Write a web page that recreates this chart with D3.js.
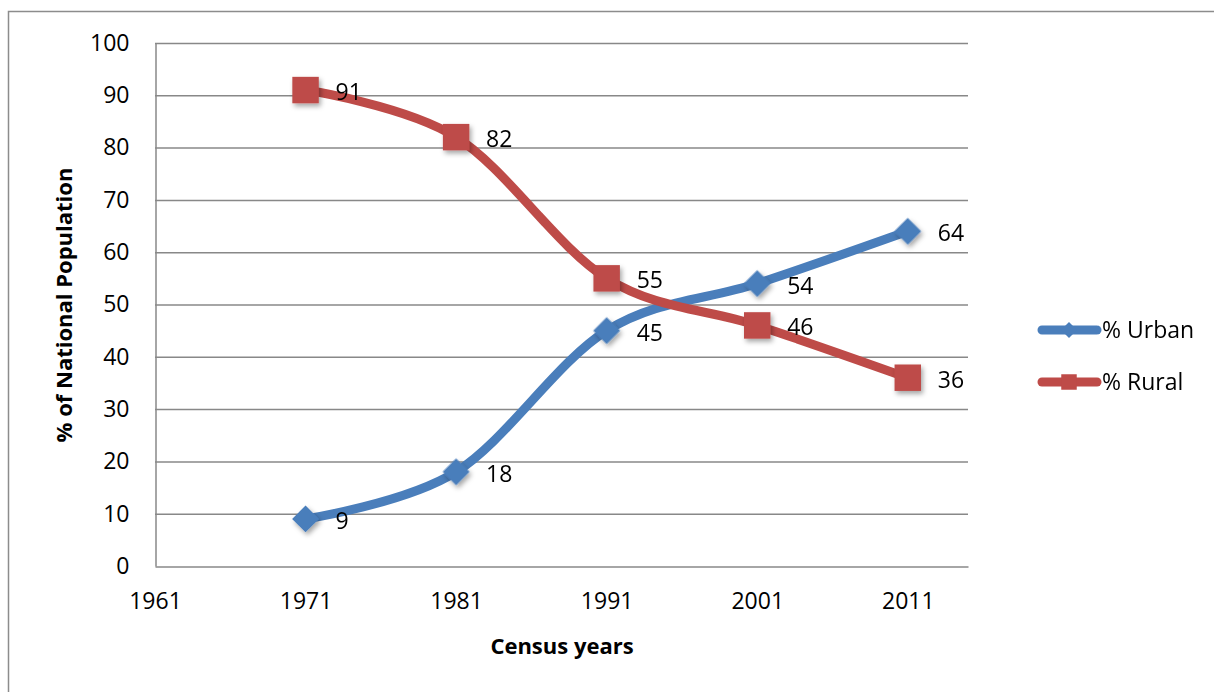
<!DOCTYPE html>
<html><head><meta charset="utf-8">
<script src="https://cdn.jsdelivr.net/npm/d3@7"></script>
<style>
html,body{margin:0;padding:0;background:#fff;}
svg text{font-family:"Open Sans",Lato,"Liberation Sans",sans-serif;fill:#000;}
</style></head>
<body><svg id="c" width="1214" height="692"></svg>
<script>
const years = [1971, 1981, 1991, 2001, 2011];
const urban = [9, 18, 45, 54, 64];
const rural = [91, 82, 55, 46, 36];
const xTicks = [1961, 1971, 1981, 1991, 2001, 2011];
const yTicks = [0, 10, 20, 30, 40, 50, 60, 70, 80, 90, 100];
const seriesNames = ["% Urban", "% Rural"];
const seriesColors = ["#4a7ebb", "#be4b48"];

const svg = d3.select("#c");
const defs = svg.append("defs");
const f = defs.append("filter").attr("id","sh").attr("x","-50%").attr("y","-50%").attr("width","200%").attr("height","200%");
f.append("feDropShadow").attr("dx",2).attr("dy",3).attr("stdDeviation",2.5).attr("flood-color","#000").attr("flood-opacity",0.35);

// outer border
svg.append("path").attr("d","M8.5,700 L8.5,11.5 L1220,11.5").attr("fill","none").attr("stroke","#8c8c8c").attr("stroke-width",1.5);

const x = d3.scaleLinear().domain([1961, 2015]).range([155, 968]);
const y = d3.scaleLinear().domain([0, 100]).range([566, 43]);

// gridlines
svg.append("g").selectAll("line").data(yTicks.slice(1)).join("line")
  .attr("x1",155).attr("x2",968).attr("y1",d=>y(d)+0.5).attr("y2",d=>y(d)+0.5)
  .attr("stroke","#888").attr("stroke-width",1.5);

// axes
const yAxis = svg.append("g").attr("transform","translate(155.5,0)")
  .call(d3.axisLeft(y).tickValues(yTicks).tickSize(0).tickPadding(26));
yAxis.select(".domain").attr("stroke","#888").attr("stroke-width",1.5);
yAxis.selectAll("text").style("font-size","23px");

const xAxis = svg.append("g").attr("transform","translate(0,566.5)")
  .call(d3.axisBottom(x).tickValues(xTicks).tickFormat(d3.format("d")).tickSize(0).tickPadding(26));
xAxis.select(".domain").attr("stroke","#888").attr("stroke-width",1.5);
xAxis.selectAll("text").style("font-size","23px");

// axis titles
svg.append("text").attr("transform","translate(72,305) rotate(-90)").attr("text-anchor","middle")
  .style("font-size","22px").style("font-weight","bold").text("% of National Population");
svg.append("text").attr("x",562).attr("y",654).attr("text-anchor","middle")
  .style("font-size","22px").style("font-weight","bold").text("Census years");

const line = d3.line().x(d=>x(d[0])).y(d=>y(d[1])).curve(d3.curveCatmullRom.alpha(0));
const data = [urban, rural];
const diamond = d3.symbol().type(d3.symbolSquare).size(360);
const square = d3.symbol().type(d3.symbolSquare).size(700);

data.forEach((vals, i) => {
  const pts = years.map((yr, j) => [yr, vals[j]]);
  svg.append("path").attr("d", line(pts)).attr("fill","none")
    .attr("stroke", seriesColors[i]).attr("stroke-width", 9).attr("stroke-linecap","round");
  const g = svg.append("g").attr("filter","url(#sh)");
  g.selectAll("path").data(pts).join("path")
    .attr("d", i === 0 ? diamond() : square())
    .attr("transform", d => `translate(${x(d[0])},${y(d[1])})` + (i === 0 ? " rotate(45)" : ""))
    .attr("fill", seriesColors[i]);
  svg.append("g").selectAll("text").data(pts).join("text")
    .attr("x", d => x(d[0]) + 30).attr("y", d => y(d[1]) + 10)
    .style("font-size","23px").text(d => d[1]);
});

// legend
seriesNames.forEach((name, i) => {
  const ly = 330 + i * 52;
  svg.append("line").attr("x1",1042).attr("x2",1097).attr("y1",ly).attr("y2",ly)
    .attr("stroke",seriesColors[i]).attr("stroke-width",9).attr("stroke-linecap","round");
  svg.append("path").attr("d", i === 0 ? d3.symbol().type(d3.symbolSquare).size(130)() : d3.symbol().type(d3.symbolSquare).size(240)())
    .attr("transform", `translate(1069,${ly})` + (i === 0 ? " rotate(45)" : "")).attr("fill",seriesColors[i]);
  svg.append("text").attr("x",1102).attr("y",ly+8).style("font-size","23px").text(name);
});
</script></body></html>
